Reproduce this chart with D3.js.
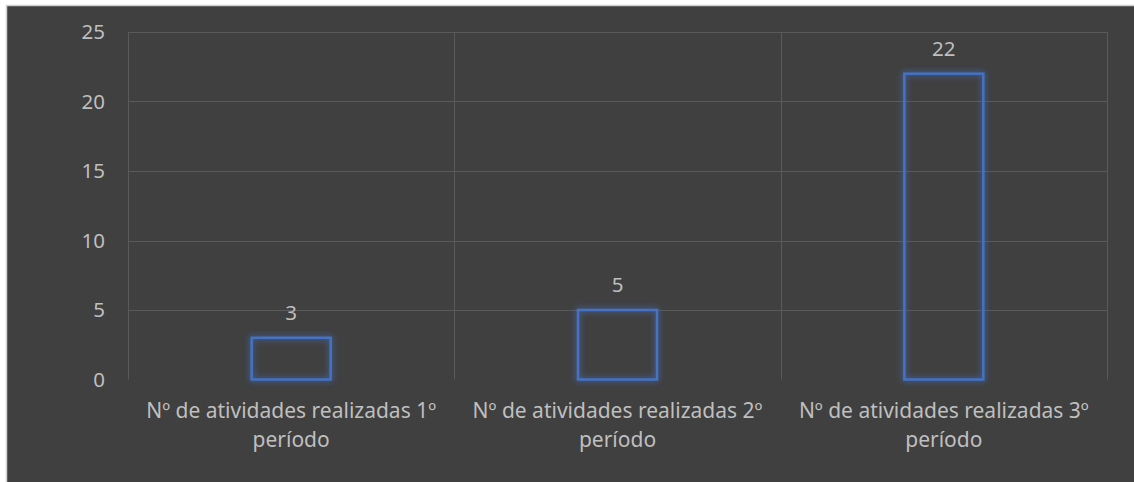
<!DOCTYPE html>
<html><head><meta charset="utf-8">
<script src="https://cdn.jsdelivr.net/npm/d3@7"></script>
<style>
html,body{margin:0;padding:0;background:#fff;}
svg{display:block;}
</style></head>
<body>
<script>
const categories = [
  ["Nº de atividades realizadas 1º", "período"],
  ["Nº de atividades realizadas 2º", "período"],
  ["Nº de atividades realizadas 3º", "período"]
];
const values = [3, 5, 22];
const yTicks = [0, 5, 10, 15, 20, 25];

(function () {
const W = 1134, H = 482;
const svg = d3.select("body").append("svg").attr("width", W).attr("height", H);

svg.append("rect").attr("x", 6.5).attr("y", 5.5).attr("width", W).attr("height", H)
  .attr("fill", "#404040").attr("stroke", "#d0d0d0").attr("stroke-width", 1.5);

const defs = svg.append("defs");
const f = defs.append("filter").attr("id", "glow").attr("x", "-30%").attr("y", "-30%").attr("width", "160%").attr("height", "160%");
f.append("feGaussianBlur").attr("in", "SourceGraphic").attr("stdDeviation", 3).attr("result", "b");
const m = f.append("feMerge");
m.append("feMergeNode").attr("in", "b");
m.append("feMergeNode").attr("in", "SourceGraphic");

const pL = 128, pR = 1107, pT = 32, pB = 379.5;
const x = d3.scaleBand().domain(d3.range(categories.length)).range([pL, pR]).paddingInner(0).paddingOuter(0);
const y = d3.scaleLinear().domain([0, 25]).range([pB, pT]);

const font = "'Noto Sans', 'Open Sans', sans-serif";
const textColor = "#bfbfbf";
const gridColor = "#5a5a5a";

svg.append("g").selectAll("line").data(yTicks.filter(d => d > 0)).join("line")
  .attr("x1", pL).attr("x2", pR)
  .attr("y1", d => Math.round(y(d)) + 0.5).attr("y2", d => Math.round(y(d)) + 0.5)
  .attr("stroke", gridColor).attr("stroke-width", 1);

const bounds = d3.range(categories.length + 1).map(i => i < categories.length ? x(i) : x(categories.length - 1) + x.bandwidth());
svg.append("g").selectAll("line").data(bounds).join("line")
  .attr("x1", d => Math.round(d) + 0.5).attr("x2", d => Math.round(d) + 0.5)
  .attr("y1", pT).attr("y2", pB)
  .attr("stroke", gridColor).attr("stroke-width", 1);

const yAxis = d3.axisLeft(y).tickValues(yTicks).tickSize(0).tickPadding(0);
const ga = svg.append("g").attr("transform", `translate(${pL - 23},0)`).call(yAxis);
ga.select(".domain").remove();
ga.selectAll("text").attr("fill", textColor).attr("font-family", font).attr("font-size", 20.5).attr("dy", "0.34em");

const barW = 79;
svg.append("g").selectAll("rect").data(values).join("rect")
  .attr("x", (d, i) => x(i) + x.bandwidth() / 2 - barW / 2)
  .attr("y", d => y(d))
  .attr("width", barW)
  .attr("height", d => pB - y(d))
  .attr("fill", "none")
  .attr("stroke", "#4472c4")
  .attr("stroke-width", 2.5)
  .attr("filter", "url(#glow)");

svg.append("g").selectAll("text").data(values).join("text")
  .attr("x", (d, i) => x(i) + x.bandwidth() / 2)
  .attr("y", d => y(d) - 18)
  .attr("text-anchor", "middle")
  .attr("fill", textColor).attr("font-family", font).attr("font-size", 20.5)
  .text(d => d);

const cg = svg.append("g");
categories.forEach((lines, i) => {
  const t = cg.append("text")
    .attr("x", x(i) + x.bandwidth() / 2)
    .attr("y", 418)
    .attr("text-anchor", "middle")
    .attr("fill", textColor).attr("font-family", font).attr("font-size", 21);
  lines.forEach((ln, j) => {
    t.append("tspan").attr("x", x(i) + x.bandwidth() / 2).attr("dy", j === 0 ? 0 : 29).text(ln);
  });
});
})();
</script>
</body></html>
